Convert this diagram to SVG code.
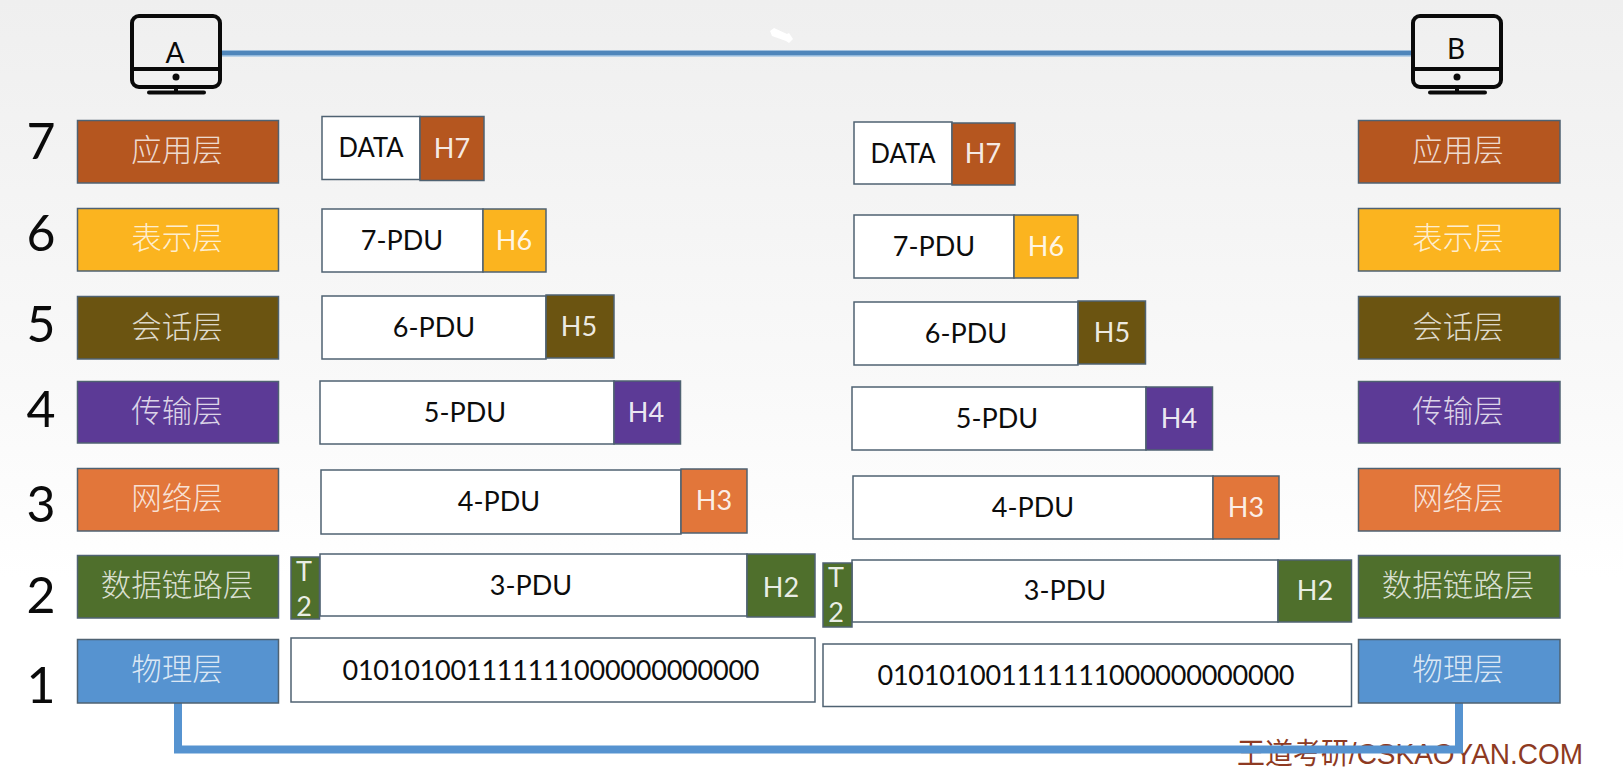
<svg xmlns="http://www.w3.org/2000/svg" width="1623" height="770" viewBox="0 0 1623 770">
<style>
text{font-family:"Lato","Liberation Sans",sans-serif;text-anchor:middle}
.t{font-size:27px;fill:#0c0c0c}
.w{font-size:27px;fill:#fff;fill-opacity:.9}
.l{font-family:"Noto Sans CJK SC",sans-serif;font-size:30.500px;font-weight:300;fill:#fff;fill-opacity:.8}
.n{font-size:50px;fill:#0a0a0a}
.b{fill:#fff;stroke:#4f6272;stroke-width:1.5}
.f{stroke:#4f6272;stroke-width:1.5}
.c1{fill:#b5561f}.c2{fill:#fbb41f}.c3{fill:#6b5411}.c4{fill:#5c3a96}.c5{fill:#e2763a}.c6{fill:#4f6f2c}.c7{fill:#5693d0}
.m{fill:none;stroke:#0a0a0a;stroke-width:4;stroke-linecap:round}
</style>
<defs>
<linearGradient id="bg" x1="0" y1="0" x2="0" y2="1"><stop offset="0" stop-color="#efefef"/><stop offset=".5" stop-color="#f9f9f9"/><stop offset=".75" stop-color="#fff"/></linearGradient>
<g id="mon">
<rect class="m" x="2" y="2" width="88" height="71" rx="7"/>
<path class="m" d="M2 55H90M46 73V78.500M19 78.500H74"/>
<circle cx="46" cy="63" r="3.500" fill="#0a0a0a"/>
</g>
</defs>
<rect width="1623" height="770" fill="url(#bg)"/>
<text id="watermark" x="1410" y="763.500" font-size="29" style="font-family:'Liberation Sans','Noto Sans CJK SC',sans-serif;fill:#8e3a22" textLength="346" lengthAdjust="spacingAndGlyphs">王道考研/CSKAOYAN.COM</text>
<g id="connectors" fill="none">
<path d="M222 53.500H1411" stroke="#a9c8e6" stroke-width="6.500"/>
<path d="M222 53H1411" stroke="#4f86bb" stroke-width="4.500"/>
<path d="M178 703V749.500H1459V703" stroke="#5693d0" stroke-width="8"/>
</g>
<path id="cursor" d="M770 31l4-3 13 6 2-1 4 6-4 4-3-2-14-5z" fill="#fff"/>
<g id="host-a"><use href="#mon" x="130" y="14"/><text x="175" y="63" font-size="28" fill="#0a0a0a">A</text></g>
<g id="host-b"><use href="#mon" x="1411" y="14"/><text x="1456" y="59" font-size="28" fill="#0a0a0a">B</text></g>
<g id="numbers">
<text class="n" x="41" y="159">7</text><text class="n" x="41" y="251">6</text><text class="n" x="41" y="342">5</text><text class="n" x="41" y="427">4</text><text class="n" x="41" y="522">3</text><text class="n" x="41" y="613">2</text><text class="n" x="41" y="703">1</text>
</g>
<g id="left-layers">
<g id="la7"><rect class="f c1" x="77.500" y="120.500" width="201" height="62.500"/><text class="l" x="177" y="161">应用层</text></g>
<g id="la6"><rect class="f c2" x="77.500" y="208.500" width="201" height="62.500"/><text class="l" x="177" y="249">表示层</text></g>
<g id="la5"><rect class="f c3" x="77.500" y="296.500" width="201" height="62.500"/><text class="l" x="177" y="338">会话层</text></g>
<g id="la4"><rect class="f c4" x="77.500" y="381.500" width="201" height="61.500"/><text class="l" x="177" y="422">传输层</text></g>
<g id="la3"><rect class="f c5" x="77.500" y="468.500" width="201" height="62.500"/><text class="l" x="177" y="509">网络层</text></g>
<g id="la2"><rect class="f c6" x="77.500" y="555.500" width="201" height="62.500"/><text class="l" x="177" y="596">数据链路层</text></g>
<g id="la1"><rect class="f c7" x="77.500" y="639.500" width="201" height="63.500"/><text class="l" x="177" y="680">物理层</text></g>
</g>
<g id="right-layers">
<g id="lb7"><rect class="f c1" x="1358.500" y="120.500" width="201.500" height="62.500"/><text class="l" x="1458" y="161">应用层</text></g>
<g id="lb6"><rect class="f c2" x="1358.500" y="208.500" width="201.500" height="62.500"/><text class="l" x="1458" y="249">表示层</text></g>
<g id="lb5"><rect class="f c3" x="1358.500" y="296.500" width="201.500" height="62.500"/><text class="l" x="1458" y="338">会话层</text></g>
<g id="lb4"><rect class="f c4" x="1358.500" y="381.500" width="201.500" height="61.500"/><text class="l" x="1458" y="422">传输层</text></g>
<g id="lb3"><rect class="f c5" x="1358.500" y="468.500" width="201.500" height="62.500"/><text class="l" x="1458" y="509">网络层</text></g>
<g id="lb2"><rect class="f c6" x="1358.500" y="555.500" width="201.500" height="62.500"/><text class="l" x="1458" y="596">数据链路层</text></g>
<g id="lb1"><rect class="f c7" x="1358.500" y="639.500" width="201.500" height="63.500"/><text class="l" x="1458" y="680">物理层</text></g>
</g>
<g id="left-pdus">
<g id="a7"><rect class="b" x="322" y="116.500" width="98" height="63"/><text class="t" x="371" y="157" textLength="65" lengthAdjust="spacingAndGlyphs">DATA</text><rect class="f c1" x="420" y="116.500" width="64" height="64"/><text class="w" x="452" y="158">H7</text></g>
<g id="a6"><rect class="b" x="322" y="209" width="161" height="63"/><text class="t" x="402" y="250">7-PDU</text><rect class="f c2" x="483" y="209" width="63" height="63"/><text class="w" x="514" y="250">H6</text></g>
<g id="a5"><rect class="b" x="322" y="296" width="224" height="63"/><text class="t" x="434" y="337">6-PDU</text><rect class="f c3" x="546" y="295" width="68" height="63"/><text class="w" x="579" y="336">H5</text></g>
<g id="a4"><rect class="b" x="320" y="381" width="294" height="63"/><text class="t" x="465" y="422">5-PDU</text><rect class="f c4" x="614" y="381" width="66.500" height="63"/><text class="w" x="646" y="422">H4</text></g>
<g id="a3"><rect class="b" x="321" y="470" width="360" height="64"/><text class="t" x="499" y="511">4-PDU</text><rect class="f c5" x="681" y="469" width="66" height="64"/><text class="w" x="714" y="510">H3</text></g>
<g id="a2"><rect class="b" x="320" y="554" width="427" height="62"/><text class="t" x="531" y="595">3-PDU</text><rect class="f c6" x="747" y="554" width="68" height="63"/><text class="w" x="781" y="597">H2</text><rect class="f c6" x="291" y="557" width="28.500" height="62"/><text class="w" x="304" y="581">T</text><text class="w" x="304" y="616">2</text></g>
<g id="a1"><rect class="b" x="291" y="638" width="524" height="64"/><text class="t" x="551" y="680" textLength="417">010101001111111000000000000</text></g>
</g>
<g id="right-pdus">
<g id="b7"><rect class="b" x="854" y="122" width="98" height="62"/><text class="t" x="903" y="163" textLength="65" lengthAdjust="spacingAndGlyphs">DATA</text><rect class="f c1" x="952" y="123" width="63" height="62"/><text class="w" x="983" y="163">H7</text></g>
<g id="b6"><rect class="b" x="854" y="215" width="160" height="63"/><text class="t" x="934" y="256">7-PDU</text><rect class="f c2" x="1014" y="215" width="64" height="63"/><text class="w" x="1046" y="256">H6</text></g>
<g id="b5"><rect class="b" x="854" y="302" width="224" height="63"/><text class="t" x="966" y="343">6-PDU</text><rect class="f c3" x="1078" y="301" width="67.500" height="63"/><text class="w" x="1112" y="342">H5</text></g>
<g id="b4"><rect class="b" x="852" y="387" width="294" height="63"/><text class="t" x="997" y="428">5-PDU</text><rect class="f c4" x="1146" y="387" width="66.500" height="63"/><text class="w" x="1179" y="428">H4</text></g>
<g id="b3"><rect class="b" x="853" y="476" width="360" height="63"/><text class="t" x="1033" y="517">4-PDU</text><rect class="f c5" x="1213" y="476" width="66" height="63"/><text class="w" x="1246" y="517">H3</text></g>
<g id="b2"><rect class="b" x="852" y="560" width="426" height="62"/><text class="t" x="1065" y="600">3-PDU</text><rect class="f c6" x="1278" y="560" width="73.500" height="62"/><text class="w" x="1315" y="600">H2</text><rect class="f c6" x="823" y="563" width="29" height="64"/><text class="w" x="836" y="587">T</text><text class="w" x="836" y="622">2</text></g>
<g id="b1"><rect class="b" x="823" y="644" width="528.500" height="62.500"/><text class="t" x="1086" y="685" textLength="417">010101001111111000000000000</text></g>
</g>
</svg>
